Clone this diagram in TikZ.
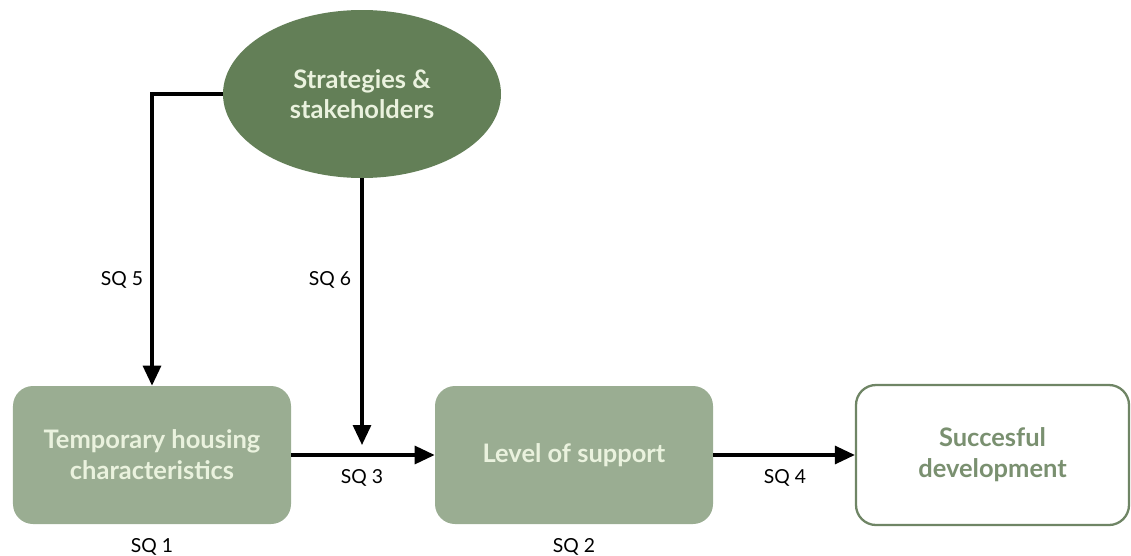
\documentclass[tikz,border=0pt]{standalone}
\usepackage{fontspec}
\setmainfont{Lato}
\usetikzlibrary{positioning,shapes.geometric,arrows.meta}
\definecolor{darkgreen}{RGB}{99,127,87}
\definecolor{sage}{RGB}{154,173,146}
\definecolor{cream}{RGB}{234,242,222}
\definecolor{rim}{RGB}{111,133,101}
\definecolor{rimtext}{RGB}{122,144,112}
\tikzset{
	flow/.style={line width=1.8pt,-{Triangle[length=0.4cm,width=0.36cm]}},
	topic/.style={ellipse,fill=darkgreen,text=cream,font=\bfseries\fontsize{14.5}{17}\selectfont,
		minimum width=5.56cm,minimum height=3.36cm,inner sep=0pt,align=center},
	part/.style={rectangle,rounded corners=0.4cm,fill=sage,text=cream,font=\bfseries\fontsize{14.5}{17.5}\selectfont,
		minimum width=5.56cm,minimum height=2.76cm,align=center},
	goal/.style={rectangle,rounded corners=0.4cm,draw=rim,line width=1.3pt,fill=white,text=rimtext,
		font=\bfseries\fontsize{14.5}{17.5}\selectfont,minimum width=5.46cm,minimum height=2.8cm,align=center},
	sq/.style={font=\fontsize{11}{13}\selectfont,text=black}
}

\begin{document}
\begin{tikzpicture}
	\useasboundingbox (0,0) rectangle (22.62,11.1);
	% shapes
	\node[topic] (strat) at (7.24,9.22) {Strategies \&\\stakeholders};
	\node[part] (housing) at (3.04,2.0) {Temporary housing\\characteristics};
	\node[part] (support) at (11.48,2.0) {Level of support};
	\node[goal] (success) at (19.85,2.0) {Succesful\\development};
	\coordinate (sqsixend) at (7.24,2.2);
	% connectors
	\draw[flow] (strat.west) -| (housing.north);
	\draw[flow] (strat.south) -- (sqsixend);
	\draw[flow] (housing.east) -- (support.west);
	\draw[flow] (support.east) -- (success.west);
	% labels
	\node[sq] (sqone) [below=0.16cm of housing] {SQ 1};
	\node[sq] (sqtwo) [below=0.16cm of support] {SQ 2};
	\node[sq] (sqthree) at (7.24,1.54) {SQ 3};
	\node[sq] (sqfour) at (15.7,1.54) {SQ 4};
	\node[sq] (sqfive) at (2.44,5.5) {SQ 5};
	\node[sq] (sqsix) at (6.6,5.5) {SQ 6};
\end{tikzpicture}
\end{document}
